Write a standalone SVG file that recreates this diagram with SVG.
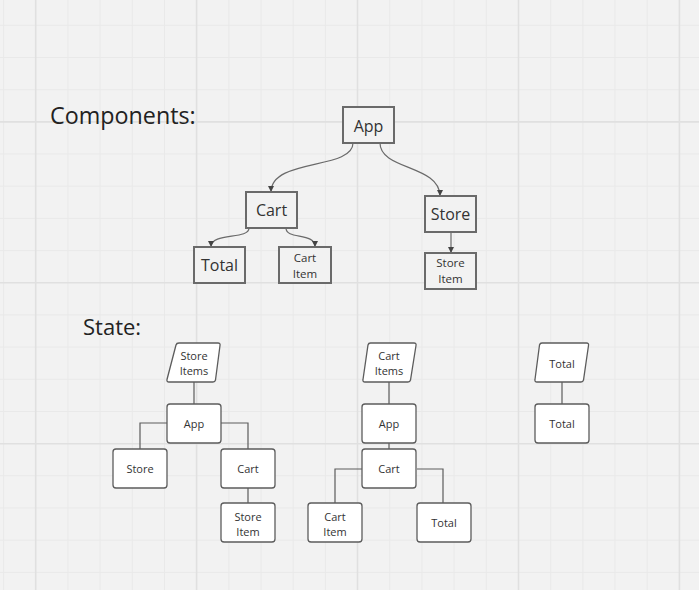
<svg xmlns="http://www.w3.org/2000/svg" width="699" height="590" viewBox="0 0 699 590">
<defs>
<style>
.bg{fill:#f2f2f2}
.minor{stroke:#e9e9e9;stroke-width:1;fill:none}
.major{stroke:#e0e0e0;stroke-width:1.6;fill:none}
.cbox{fill:#f2f2f2;stroke:#6a6a6a;stroke-width:2}
.sbox{fill:#ffffff;stroke:#5c5c5c;stroke-width:1.3}
.clink{fill:none;stroke:#6a6a6a;stroke-width:1.2}
.slink{fill:none;stroke:#5c5c5c;stroke-width:1.2}
.ct{font-family:"Open Sans","Liberation Sans",sans-serif;fill:#333;text-anchor:middle}
.st{font-family:"Open Sans","Liberation Sans",sans-serif;fill:#333;font-size:11px;text-anchor:middle}
.title{font-family:"Open Sans","Liberation Sans",sans-serif;fill:#222}
</style>
<marker id="arr" viewBox="0 0 8 8" refX="8" refY="4" markerWidth="6" markerHeight="6" markerUnits="userSpaceOnUse" orient="auto">
<path d="M0,0 L8,4 L0,8 z" fill="#444"/>
</marker>
</defs>
<rect class="bg" x="0" y="0" width="699" height="590"/>
<g id="grid">
<path class="minor" d="M3.6,0V590M68,0V590M100.1,0V590M132.3,0V590M164.5,0V590M228.9,0V590M261.1,0V590M293.2,0V590M325.4,0V590M389.8,0V590M422,0V590M454.1,0V590M486.3,0V590M550.7,0V590M582.9,0V590M615,0V590M647.2,0V590M0,25.3H699M0,57.5H699M0,89.7H699M0,154H699M0,186.2H699M0,218.4H699M0,250.6H699M0,314.9H699M0,347.1H699M0,379.3H699M0,411.5H699M0,475.8H699M0,508H699M0,540.2H699M0,572.4H699"/>
<path class="major" d="M35.7,0V590M196.6,0V590M357.5,0V590M518.5,0V590M679.4,0V590M0,121.9H699M0,282.8H699M0,443.7H699"/>
</g>
<text class="title" x="50" y="123.5" font-size="23.3">Components:</text>
<text class="title" x="83" y="334.5" font-size="22">State:</text>
<g id="connectors">
<path class="clink" d="M353,143 C353,170 271,158 271,192" marker-end="url(#arr)"/>
<path class="clink" d="M380,143 C380,170 440,165 440,196" marker-end="url(#arr)"/>
<path class="clink" d="M249,228 C249,240 211,232 211,247" marker-end="url(#arr)"/>
<path class="clink" d="M286,228 C286,240 315,232 315,247" marker-end="url(#arr)"/>
<path class="clink" d="M451,232 L451,253" marker-end="url(#arr)" stroke="#888"/>
<path class="slink" d="M194,382 V404 M167,423 H140 V449 M221,423 H248 V449 M248,488 V503"/>
<path class="slink" d="M389,382 V404 M389,443 V449 M362,469 H335 V503 M417,469 H443 V503"/>
<path class="slink" d="M562,382 V404"/>
</g>
<g id="c-app"><rect class="cbox" x="343" y="107" width="51" height="36"/><text class="ct" x="368.5" y="131.5" font-size="16">App</text></g>
<g id="c-cart"><rect class="cbox" x="246" y="192" width="51" height="36"/><text class="ct" x="271.5" y="216" font-size="16">Cart</text></g>
<g id="c-store"><rect class="cbox" x="425" y="196" width="51" height="36"/><text class="ct" x="450.5" y="220" font-size="16">Store</text></g>
<g id="c-total"><rect class="cbox" x="194" y="247" width="51" height="36"/><text class="ct" x="219.5" y="271" font-size="16">Total</text></g>
<g id="c-cartitem"><rect class="cbox" x="279" y="247" width="52" height="36"/><text class="ct" x="305" y="262" font-size="11.5">Cart</text><text class="ct" x="305" y="277.5" font-size="11.5">Item</text></g>
<g id="c-storeitem"><rect class="cbox" x="425" y="253" width="51" height="36"/><text class="ct" x="450.5" y="267" font-size="11.5">Store</text><text class="ct" x="450.5" y="282.5" font-size="11.5">Item</text></g>
<g id="s1-storeitems"><path class="sbox" d="M179,343 H218 Q220.5,343 220,345.5 L215.5,380 Q215,382 213,382 H169 Q166.5,382 167,379.5 L176,345 Q176.5,343 179,343 Z"/><text class="st" x="194" y="359.5">Store</text><text class="st" x="194" y="375">Items</text></g>
<g id="s1-app"><rect class="sbox" x="167" y="404" width="54" height="39" rx="3"/><text class="st" x="194" y="428">App</text></g>
<g id="s1-store"><rect class="sbox" x="113" y="449" width="54" height="39" rx="3"/><text class="st" x="140" y="473">Store</text></g>
<g id="s1-cart"><rect class="sbox" x="221" y="449" width="54" height="39" rx="3"/><text class="st" x="248" y="473">Cart</text></g>
<g id="s1-storeitem"><rect class="sbox" x="221" y="503" width="54" height="39" rx="3"/><text class="st" x="248" y="520.5">Store</text><text class="st" x="248" y="536">Item</text></g>
<g id="s2-cartitems"><path class="sbox" d="M370.5,343 H414 Q416.5,343 416,345.5 L410.5,380 Q410,382 408,382 H365 Q362.5,382 363,379.5 L368,345 Q368.5,343 370.5,343 Z"/><text class="st" x="389" y="359.5">Cart</text><text class="st" x="389" y="375">Items</text></g>
<g id="s2-app"><rect class="sbox" x="362" y="404" width="54" height="39" rx="3"/><text class="st" x="389" y="428">App</text></g>
<g id="s2-cart"><rect class="sbox" x="362" y="449" width="54" height="39" rx="3"/><text class="st" x="389" y="473">Cart</text></g>
<g id="s2-cartitem"><rect class="sbox" x="308" y="503" width="54" height="39" rx="3"/><text class="st" x="335" y="520.5">Cart</text><text class="st" x="335" y="536">Item</text></g>
<g id="s2-total"><rect class="sbox" x="417" y="503" width="54" height="39" rx="3"/><text class="st" x="444" y="527">Total</text></g>
<g id="s3-total-state"><path class="sbox" d="M542,343 H586.5 Q589,343 588.5,345.5 L583.5,380 Q583,382 581,382 H537 Q534.5,382 535,379.5 L539.5,345 Q540,343 542,343 Z"/><text class="st" x="562" y="367.5">Total</text></g>
<g id="s3-total"><rect class="sbox" x="535" y="404" width="54" height="39" rx="3"/><text class="st" x="562" y="428">Total</text></g>
</svg>
